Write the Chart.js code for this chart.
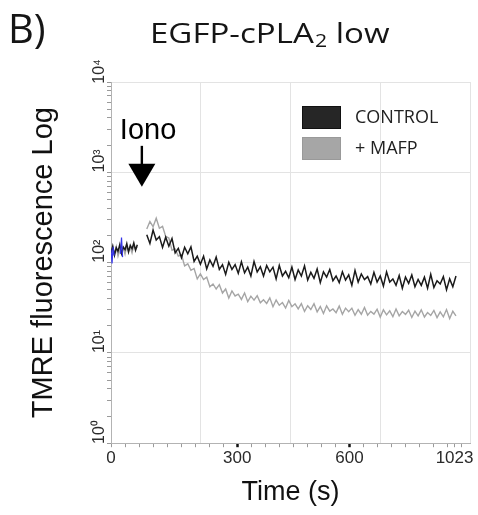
<!DOCTYPE html>
<html>
<head>
<meta charset="utf-8">
<script src="https://cdn.jsdelivr.net/npm/chart.js@4.4.0/dist/chart.umd.min.js"></script>
<style>
  html, body { margin: 0; padding: 0; background: #fff; }
</style>
</head>
<body>
<canvas id="trace_chart" width="478" height="515"></canvas>
<script>
// time axis is in acquisition channels (0-1024), grid every 256 channels
var preTime = [0,5,10,15,20,25,30,35,40,45,50,55,60,65,70,75];
var gapTime = 88;
var postTime = [102,111,120,129,138,147,156,165,174,183,192,201,210,219,228,237,246,255,264,273,
  282,291,300,309,318,327,336,345,354,363,372,381,390,399,408,417,426,435,444,453,
  462,471,480,489,498,507,516,525,534,543,552,561,570,579,588,597,606,615,624,633,
  642,651,660,669,678,687,696,705,714,723,732,741,750,759,768,777,786,795,804,813,
  822,831,840,849,858,867,876,885,894,903,912,921,930,939,948,957,966,975,984];

var controlPre = [128,152,121,146,133,158,126,149,139,162,131,155,142,165,137,158];
var controlPost = [204,163,229,178,194,147,191,152,185,128,
  144,113,148,125,149,103,118,96,118,85,
  107,91,115,84,95,74,101,84,95,76,
  102,77,89,71,103,79,90,71,93,79,
  89,66,93,71,80,68,89,65,83,71,
  92,64,78,67,85,60,79,69,84,63,
  71,60,79,64,73,56,82,61,75,65,
  70,58,78,61,71,55,79,61,66,56,
  72,52,69,59,73,54,65,56,69,52,
  74,53,63,58,70,50,66,54,71];

var mafpPre = [120,141,126,150,118,138,129,145,124,152,133,147,128,156,140,150];
var mafpPost = [235,285,250,310,240,252,195,187,137,142,
  118,122,92,97,82,86,66,75,65,69,
  54,58,51,57,46,51,40.5,48.6,42.7,44.7,
  39.1,46.1,36.9,42.5,38.4,43.1,35.9,38.8,35.3,40.7,
  32.5,38.5,33.7,36.1,31.4,38.1,32.5,35.0,30.7,35.1,
  28.8,33.3,30.2,35.0,28.5,32.6,27.3,33.2,29.0,30.6,
  27.9,33.0,26.8,31.3,28.6,31.3,26.1,30.2,26.8,31.9,
  26.2,28.8,26.9,30.5,24.9,30.0,26.4,29.2,25.2,30.7,
  25.7,28.7,26.7,29.7,24.7,29.0,25.7,30.0,25.0,28.0,
  26.0,29.5,24.6,28.4,25.1,30.2,24.0,28.9,25.7];

// two short blue spikes at the start of the acquisition
var blueTime = [0,3,6,9,18,27,30,33];
var blueValues = [140,98,150,120,null,125,190,115];

var seriesNames = ['CONTROL', '+ MAFP'];
var legendColors = ['#262626', '#a6a6a6'];

var xLabelChannels = [0, 360, 680, 980];
var xLabels = ['0', '300', '600', '1023'];
var xMinorTicks = [0,40,80,120,160,200,240,280,320,360,400,440,480,520,560,600,640,680,720,760,800,840,880,920,960,980,1000];
var xGridLines = [256, 512, 768, 1024];

var yDecades = [1, 10, 100, 1000, 10000];
var yDecadeLabels = ['10\u2070', '10\u00b9', '10\u00b2', '10\u00b3', '10\u2074'];

var ionoChannel = 88;
var ionoTipValue = 690;

function toPoints(pre, post) {
  var pts = [];
  preTime.forEach(function(t, i) { pts.push({x: t, y: pre[i]}); });
  pts.push({x: gapTime, y: null});
  postTime.forEach(function(t, i) { pts.push({x: t, y: post[i]}); });
  return pts;
}

var yTickValues = [];
yDecades.slice(0, 4).forEach(function(d) {
  for (var k = 1; k < 10; k++) yTickValues.push(d * k);
});
yTickValues.push(10000);

var xTickValues = xMinorTicks.concat(xGridLines).sort(function(a, b) { return a - b; });

var decorations = {
  id: 'decorations',
  afterDraw: function(chart) {
    var ctx = chart.ctx, area = chart.chartArea;
    var xs = chart.scales.x, ys = chart.scales.y;
    ctx.save();
    ctx.fillStyle = '#151515';
    ctx.textBaseline = 'alphabetic';
    ctx.textAlign = 'left';

    // panel letter
    ctx.font = '40px "Open Sans"';
    ctx.fillText('B)', 8, 43);

    // title, the source lettering is a bit wider than Open Sans
    ctx.save();
    ctx.translate(150, 43);
    ctx.scale(1.18, 1);
    var tx = 0;
    ctx.font = '28px "Open Sans"';
    ctx.fillText('EGFP-cPLA', tx, 0);
    tx += ctx.measureText('EGFP-cPLA').width + 1;
    ctx.font = '18px "Open Sans"';
    ctx.fillText('2', tx, 4);
    tx += ctx.measureText('2').width;
    ctx.font = '28px "Open Sans"';
    ctx.fillText(' low', tx, 0);
    ctx.restore();

    // Iono arrow
    var ax = xs.getPixelForValue(ionoChannel);
    var tip = ys.getPixelForValue(ionoTipValue);
    ctx.font = '29px "Liberation Sans"';
    ctx.fillStyle = '#000';
    ctx.fillText('Iono', ax - 22, tip - 48);
    ctx.fillRect(ax - 1.2, tip - 41, 2.4, 20);
    ctx.beginPath();
    ctx.moveTo(ax - 13.5, tip - 23);
    ctx.lineTo(ax + 13.5, tip - 23);
    ctx.lineTo(ax, tip);
    ctx.closePath();
    ctx.fill();

    // legend
    var lx = area.right - 168, ly = area.top + 24;
    ctx.font = '18px "Open Sans"';
    ctx.textBaseline = 'middle';
    seriesNames.forEach(function(name, i) {
      var by = ly + i * 31;
      ctx.fillStyle = legendColors[i];
      ctx.fillRect(lx, by, 39, 23);
      ctx.strokeStyle = i === 0 ? '#111' : '#999';
      ctx.lineWidth = 1;
      ctx.strokeRect(lx + 0.5, by + 0.5, 38, 22);
      ctx.fillStyle = '#222';
      ctx.fillText(name, lx + 53, by + 12);
    });
    ctx.restore();
  }
};

var ctx = document.getElementById('trace_chart').getContext('2d');
new Chart(ctx, {
  type: 'line',
  data: {
    datasets: [
      {
        label: 'blue',
        data: blueTime.map(function(t, i) { return {x: t, y: blueValues[i]}; }),
        borderColor: '#3535e8',
        borderWidth: 1.2,
        pointRadius: 0,
        order: 0
      },
      {
        label: seriesNames[0],
        data: toPoints(controlPre, controlPost),
        borderColor: '#1a1a1a',
        borderWidth: 1.5,
        pointRadius: 0,
        order: 1
      },
      {
        label: seriesNames[1],
        data: toPoints(mafpPre, mafpPost),
        borderColor: '#a5a5a5',
        borderWidth: 1.4,
        pointRadius: 0,
        order: 2
      }
    ]
  },
  options: {
    responsive: false,
    animation: false,
    layout: { padding: { left: 10, right: 8, top: 82, bottom: 0 } },
    plugins: {
      legend: { display: false },
      tooltip: { enabled: false }
    },
    scales: {
      x: {
        type: 'linear',
        min: 0,
        max: 1024,
        afterBuildTicks: function(axis) {
          axis.ticks = xTickValues.map(function(v) { return {value: v}; });
        },
        grid: {
          color: function(c) { return c.tick && c.tick.value % 256 === 0 ? '#e3e3e3' : 'rgba(0,0,0,0)'; },
          tickColor: function(c) {
            var v = c.tick ? c.tick.value : -1;
            if (xMinorTicks.indexOf(v) < 0) return 'rgba(0,0,0,0)';
            return (v === 360 || v === 680) ? '#111' : '#9a9a9a';
          },
          tickWidth: function(c) {
            var v = c.tick ? c.tick.value : -1;
            return (v === 360 || v === 680) ? 2.5 : 1;
          },
          tickLength: 4
        },
        border: { color: '#b3b3b3' },
        ticks: {
          autoSkip: false,
          maxRotation: 0,
          minRotation: 0,
          padding: 1,
          color: '#2a2a2a',
          font: { family: 'Liberation Sans', size: 17 },
          callback: function(v) {
            var i = xLabelChannels.indexOf(v);
            return i < 0 ? '' : xLabels[i];
          }
        },
        title: {
          display: true,
          text: 'Time (s)',
          color: '#111',
          font: { family: 'Liberation Sans', size: 27 },
          padding: { top: 7, bottom: 6 }
        }
      },
      y: {
        type: 'logarithmic',
        min: 1,
        max: 10000,
        afterBuildTicks: function(axis) {
          axis.ticks = yTickValues.map(function(v) { return {value: v, major: yDecades.indexOf(v) >= 0}; });
        },
        grid: {
          color: function(c) { return c.tick && yDecades.indexOf(c.tick.value) >= 0 ? '#e3e3e3' : 'rgba(0,0,0,0)'; },
          tickColor: '#9a9a9a',
          tickLength: 4
        },
        border: { color: '#b3b3b3' },
        ticks: {
          autoSkip: false,
          minRotation: 90,
          maxRotation: 90,
          crossAlign: 'near',
          labelOffset: -23,
          padding: 7,
          color: '#2a2a2a',
          font: { family: 'Liberation Sans', size: 16 },
          callback: function(v) {
            var i = yDecades.indexOf(v);
            return i < 0 ? '' : yDecadeLabels[i];
          }
        },
        title: {
          display: true,
          text: 'TMRE fluorescence Log',
          color: '#111',
          font: { family: 'Liberation Sans', size: 29 },
          padding: { top: 17, bottom: 12 }
        }
      }
    }
  },
  plugins: [decorations]
});
</script>
</body>
</html>
